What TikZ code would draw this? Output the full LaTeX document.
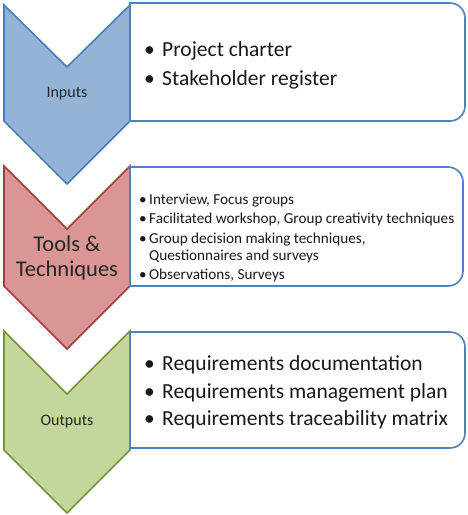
\documentclass[tikz,border=0pt]{standalone}
\usepackage{fontspec}
\setmainfont{Carlito}
\definecolor{inFill}{HTML}{95B3D7}
\definecolor{inLine}{HTML}{4A7EBB}
\definecolor{toFill}{HTML}{D99694}
\definecolor{toLine}{HTML}{A33D3A}
\definecolor{ouFill}{HTML}{C3D69B}
\definecolor{ouLine}{HTML}{77933C}
\definecolor{boxLine}{HTML}{4F81BD}
\begin{document}
\begin{tikzpicture}[x=1pt,y=-1pt,
  chev/.style={line width=1.6pt,line join=miter},
  listbox/.style={draw=boxLine,fill=white,line width=1.6pt},
  biglabel/.style={font=\fontsize{22.5}{25}\selectfont,align=center,text=black!85},
  smalllabel/.style={font=\fontsize{16}{18}\selectfont,text=black!85},
  bigitem/.style={anchor=base west,inner sep=0pt,font=\fontsize{21.5}{24}\selectfont,text=black!90},
  smallitem/.style={anchor=base west,inner sep=0pt,font=\fontsize{15.2}{17}\selectfont,text=black!90}]
\useasboundingbox (0,0) rectangle (467,515);
% chevrons
\draw[chev,fill=inFill,draw=inLine] (4,5) -- (67,67) -- (130,5) -- (130,121) -- (67,184) -- (4,121) -- cycle;
\draw[chev,fill=toFill,draw=toLine] (4,166) -- (67,229) -- (130,166) -- (130,286) -- (67,349) -- (4,286) -- cycle;
\draw[chev,fill=ouFill,draw=ouLine] (4,331) -- (67,394) -- (130,331) -- (130,450) -- (67,513) -- (4,450) -- cycle;
% boxes
\draw[listbox] (130,3) -- (450,3) arc[start angle=90,end angle=0,x radius=15,y radius=-15] -- (465,106) arc[start angle=0,end angle=-90,x radius=15,y radius=-15] -- (130,121) -- cycle;
\draw[listbox] (130,167) -- (448,167) arc[start angle=90,end angle=0,x radius=15,y radius=-15] -- (463,271) arc[start angle=0,end angle=-90,x radius=15,y radius=-15] -- (130,286) -- cycle;
\draw[listbox] (130,332) -- (450,332) arc[start angle=90,end angle=0,x radius=15,y radius=-15] -- (465,433) arc[start angle=0,end angle=-90,x radius=15,y radius=-15] -- (130,448) -- cycle;
% labels
\node[smalllabel] (lin) at (67,94) {Inputs};
\node[biglabel] (ltools) at (67,258) {Tools \&\\Techniques};
\node[smalllabel] (lout) at (67,422) {Outputs};
% box 1
\node[bigitem] (i1) at (144,56) {\makebox[18pt][l]{\textbullet}Project charter};
\node[bigitem] (i2) at (144,85) {\makebox[18pt][l]{\textbullet}Stakeholder register};
% box 2
\node[smallitem] (t1) at (139,204) {\makebox[10pt][l]{\textbullet}Interview, Focus groups};
\node[smallitem] (t2) at (139,223.5) {\makebox[10pt][l]{\textbullet}Facilitated workshop, Group creativity techniques};
\node[smallitem] (t3) at (139,243) {\makebox[10pt][l]{\textbullet}\begin{tabular}[t]{@{}l@{}}Group decision making techniques,\\Questionnaires and surveys\end{tabular}};
\node[smallitem] (t4) at (139,279) {\makebox[10pt][l]{\textbullet}Observations, Surveys};
% box 3
\node[bigitem] (o1) at (144,370) {\makebox[18pt][l]{\textbullet}Requirements documentation};
\node[bigitem] (o2) at (144,398) {\makebox[18pt][l]{\textbullet}Requirements management plan};
\node[bigitem] (o3) at (144,425) {\makebox[18pt][l]{\textbullet}Requirements traceability matrix};
\end{tikzpicture}
\end{document}
